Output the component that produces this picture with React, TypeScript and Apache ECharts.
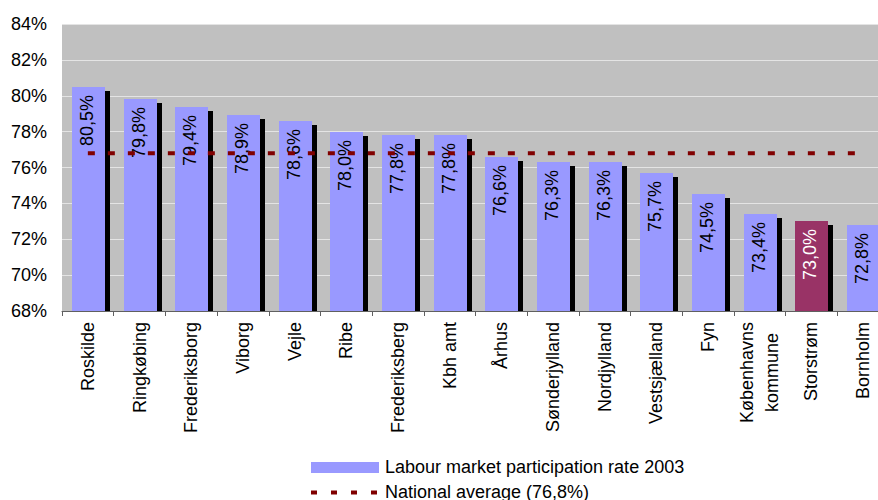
import React, { useEffect, useRef } from "react";
import * as echarts from "echarts";

const categories = [
  "Roskilde",
  "Ringkøbing",
  "Frederiksborg",
  "Viborg",
  "Vejle",
  "Ribe",
  "Frederiksberg",
  "Kbh amt",
  "Århus",
  "Sønderjylland",
  "Nordjylland",
  "Vestsjælland",
  "Fyn",
  "Københavns\nkommune",
  "Storstrøm",
  "Bornholm",
];
const rates = [80.5, 79.8, 79.4, 78.9, 78.6, 78.0, 77.8, 77.8, 76.6, 76.3, 76.3, 75.7, 74.5, 73.4, 73.0, 72.8];
const nationalAverage = 76.8;
const highlighted = "Storstrøm";
const yMin = 68;
const yMax = 84;
const yStep = 2;
const legendBarLabel = "Labour market participation rate 2003";
const legendLineLabel = "National average (76,8%)";

const FONT = "'Liberation Sans', Arial, sans-serif";
const BAR_COLOR = "#9999FF";
const HIGHLIGHT_COLOR = "#993366";
const LINE_COLOR = "#800000";

const fmt = (v: number) => v.toFixed(1).replace(".", ",") + "%";

export default function App() {
  const ref = useRef<HTMLDivElement>(null);
  useEffect(() => {
    if (!ref.current) return;
    const chart = echarts.init(ref.current, null, { renderer: "svg" });
    const option: any = {
      animation: false,
      grid: {
        left: 62,
        top: 24,
        width: 827,
        height: 287,
        show: true,
        backgroundColor: "#c0c0c0",
        borderWidth: 0,
      },
      xAxis: {
        type: "category",
        data: categories,
        boundaryGap: true,
        axisLine: { show: true, lineStyle: { color: "#606060", width: 1 } },
        axisTick: { show: true, length: 5, lineStyle: { color: "#606060" } },
        axisLabel: {
          interval: 0,
          rotate: 90,
          margin: 11,
          color: "#000",
          fontSize: 18,
          fontFamily: FONT,
          formatter: (v: string) =>
            v
              .split("\n")
              .map((s) => `{c|${s}}`)
              .join("\n"),
          rich: {
            c: { align: "center", fontSize: 18, fontFamily: FONT, color: "#000", lineHeight: 25 },
          },
        },
      },
      yAxis: {
        type: "value",
        min: yMin,
        max: yMax,
        interval: yStep,
        axisLine: { show: false },
        axisTick: { show: false },
        axisLabel: {
          formatter: "{value}%",
          margin: 15,
          color: "#000",
          fontSize: 18,
          fontFamily: FONT,
        },
        splitLine: { show: true, lineStyle: { color: "#e4e4e4", width: 1 } },
      },
      series: [
        {
          type: "custom",
          z: 2,
          data: rates.map((v, i) => [i, v]),
          encode: { x: 0, y: 1 },
          renderItem: (params: any, api: any) => {
            const idx = api.value(0);
            const v = api.value(1);
            const top = api.coord([idx, v]);
            const base = api.coord([idx, yMin]);
            const bandW = api.size([1, 0])[0];
            const bw = Math.round(bandW * 0.64);
            const x = Math.round(top[0] - bw / 2 + 0.5);
            const y = Math.round(top[1]);
            const h = base[1] - y;
            const isHi = categories[idx] === highlighted;
            return {
              type: "group",
              children: [
                {
                  type: "rect",
                  shape: { x: x + 5, y: y + 4, width: bw, height: h - 4 },
                  style: { fill: "#000" },
                },
                {
                  type: "rect",
                  shape: { x, y, width: bw, height: h },
                  style: { fill: isHi ? HIGHLIGHT_COLOR : BAR_COLOR },
                },
                {
                  type: "text",
                  x: top[0] - 1,
                  y: y + 8,
                  rotation: Math.PI / 2,
                  style: {
                    text: fmt(v),
                    fill: isHi ? "#fff" : "#000",
                    fontSize: 18,
                    fontFamily: FONT,
                    align: "right",
                    verticalAlign: "middle",
                  },
                },
              ],
            };
          },
        },
        {
          type: "line",
          z: 3,
          data: categories.map(() => nationalAverage),
          symbol: "none",
          lineStyle: { color: LINE_COLOR, width: 4, type: [7, 13] },
        },
      ],
      graphic: [
        {
          type: "rect",
          shape: { x: 311, y: 462, width: 68, height: 11 },
          style: { fill: BAR_COLOR },
        },
        {
          type: "text",
          x: 385,
          y: 467,
          style: {
            text: legendBarLabel,
            fill: "#000",
            fontSize: 18,
            fontFamily: FONT,
            verticalAlign: "middle",
          },
        },
        {
          type: "line",
          shape: { x1: 311, y1: 492.5, x2: 379, y2: 492.5 },
          style: { stroke: LINE_COLOR, lineWidth: 4, lineDash: [6, 14] },
        },
        {
          type: "text",
          x: 385,
          y: 492,
          style: {
            text: legendLineLabel,
            fill: "#000",
            fontSize: 18,
            fontFamily: FONT,
            verticalAlign: "middle",
          },
        },
      ],
    };
    chart.setOption(option);
    return () => chart.dispose();
  }, []);
  return (
    <div style={{ position: "absolute", left: 0, top: 0, width: 878, height: 500, overflow: "hidden", background: "#fff" }}>
      <div ref={ref} style={{ width: 890, height: 500 }} />
    </div>
  );
}
